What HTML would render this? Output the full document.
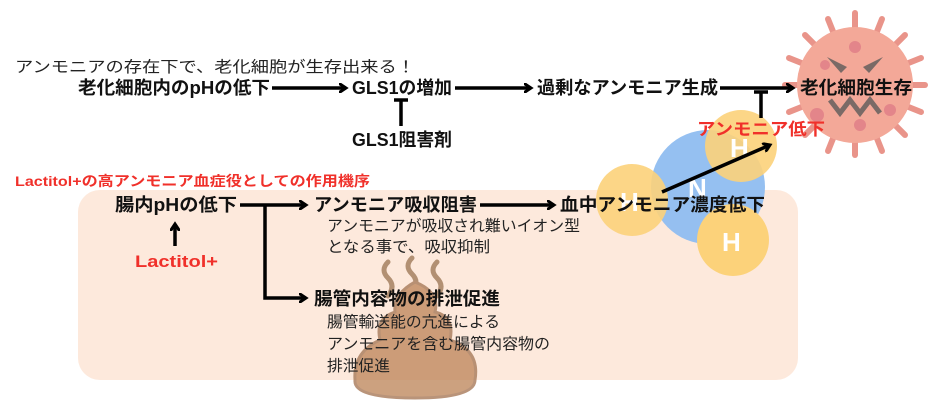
<!DOCTYPE html>
<html><head><meta charset="utf-8"><style>
html,body{margin:0;padding:0;background:#fff}
svg{display:block}
text{font-family:"Liberation Sans","Noto Sans CJK JP",sans-serif}
.b{font-weight:bold;font-size:18px;fill:#111}
.n{font-size:15.5px;fill:#222}
.r{font-weight:bold;fill:#f0302a}
</style></head><body>
<svg width="932" height="404" viewBox="0 0 932 404" xmlns="http://www.w3.org/2000/svg">
<defs>
<marker id="ah" markerWidth="10" markerHeight="10" refX="7" refY="5" orient="auto" markerUnits="userSpaceOnUse">
<path d="M1,1 L7,5 L1,9" fill="none" stroke="#000" stroke-width="3" stroke-linecap="round"/>
</marker>
</defs>
<rect x="78" y="190" width="720" height="190" rx="22" fill="#fde9dc"/>

<!-- virus -->
<g transform="translate(855,85)" fill="#e9948a">
<g stroke="#e9948a" stroke-width="6" stroke-linecap="round">
<line x1="0" y1="-55" x2="0" y2="-72"/><line x1="0" y1="55" x2="0" y2="70"/>
<line x1="-55" y1="0" x2="-70" y2="0"/><line x1="55" y1="0" x2="70" y2="0"/>
<line x1="39" y1="-39" x2="50" y2="-50"/><line x1="-39" y1="-39" x2="-50" y2="-50"/>
<line x1="39" y1="39" x2="50" y2="50"/><line x1="-39" y1="39" x2="-50" y2="50"/>
<line x1="21" y1="-51" x2="27" y2="-66"/><line x1="-21" y1="-51" x2="-27" y2="-66"/>
<line x1="51" y1="-21" x2="66" y2="-27"/><line x1="-51" y1="-21" x2="-66" y2="-27"/>
<line x1="51" y1="21" x2="66" y2="27"/><line x1="-51" y1="21" x2="-66" y2="27"/>
<line x1="21" y1="51" x2="27" y2="66"/><line x1="-21" y1="51" x2="-27" y2="66"/>
</g>
<circle r="58" fill="#f3a898"/>
<circle cx="0" cy="-38" r="6" fill="#e3858a"/><circle cx="-30" cy="-20" r="5" fill="#e3858a"/>
<circle cx="35" cy="25" r="6" fill="#e3858a"/><circle cx="-38" cy="30" r="7" fill="#e3858a"/>
<circle cx="5" cy="40" r="6" fill="#e3858a"/>
<path d="M-28,-28 L-8,-18 L-14,-12 Z" fill="#7a6a66"/>
<path d="M28,-28 L8,-18 L14,-12 Z" fill="#7a6a66"/>
<path d="M-25,15 L-15,28 L-5,15 L5,28 L15,15 L25,28" fill="none" stroke="#7a6a66" stroke-width="5"/>
</g>

<!-- molecule -->
<circle cx="708" cy="187" r="57" fill="#8fbdf0" opacity="0.95"/>
<circle cx="632" cy="200" r="36" fill="#fcd27a" opacity="0.9"/>
<circle cx="741" cy="146" r="36" fill="#fcd27a" opacity="0.9"/>
<circle cx="733" cy="240" r="36" fill="#fcd27a"/>
<text x="688" y="197" font-size="26" font-weight="bold" fill="#fff">N</text>
<text x="730" y="157" font-size="26" font-weight="bold" fill="#fff">H</text>
<text x="722" y="251" font-size="26" font-weight="bold" fill="#fff">H</text>
<text x="620" y="211" font-size="26" font-weight="bold" fill="#fff">H</text>

<!-- poop -->
<g opacity="0.8">
<path d="M388,262 q-8,8 0,16 q8,8 0,18" fill="none" stroke="#a07a5a" stroke-width="5" stroke-linecap="round"/>
<path d="M412,258 q-8,8 0,16 q8,8 0,18" fill="none" stroke="#a07a5a" stroke-width="5" stroke-linecap="round"/>
<path d="M437,262 q-8,8 0,16 q8,8 0,18" fill="none" stroke="#a07a5a" stroke-width="5" stroke-linecap="round"/>
<path d="M415,282 q25,10 20,30 q20,5 15,28 q30,10 25,40 q0,18 -60,18 q-62,0 -60,-18 q-2,-28 25,-40 q-5,-22 15,-28 q-2,-18 20,-30 Z" fill="#c08a60" stroke="#a87a5a" stroke-width="3"/>
</g>

<!-- texts -->
<text x="15" y="72" class="n" textLength="400" lengthAdjust="spacingAndGlyphs">アンモニアの存在下で、老化細胞が生存出来る！</text>
<text x="78" y="94" class="b" textLength="192" lengthAdjust="spacingAndGlyphs">老化細胞内のpHの低下</text>
<text x="352" y="94" class="b" textLength="100" lengthAdjust="spacingAndGlyphs">GLS1の増加</text>
<text x="537" y="94" class="b" textLength="181" lengthAdjust="spacingAndGlyphs">過剰なアンモニア生成</text>
<text x="800" y="94" class="b" textLength="112" lengthAdjust="spacingAndGlyphs">老化細胞生存</text>
<text x="352" y="146" class="b" textLength="100" lengthAdjust="spacingAndGlyphs">GLS1阻害剤</text>
<text x="697" y="135" class="r" font-size="17" textLength="128" lengthAdjust="spacingAndGlyphs">アンモニア低下</text>
<text x="15" y="186" class="r" font-size="14" textLength="355" lengthAdjust="spacingAndGlyphs">Lactitol+の高アンモニア血症役としての作用機序</text>
<text x="115" y="211" class="b" textLength="122" lengthAdjust="spacingAndGlyphs">腸内pHの低下</text>
<text x="314" y="211" class="b" textLength="163" lengthAdjust="spacingAndGlyphs">アンモニア吸収阻害</text>
<text x="560" y="211" class="b" textLength="205" lengthAdjust="spacingAndGlyphs">血中アンモニア濃度低下</text>
<text x="327" y="231" class="n" textLength="253" lengthAdjust="spacingAndGlyphs">アンモニアが吸収され難いイオン型</text>
<text x="327" y="252" class="n" textLength="163" lengthAdjust="spacingAndGlyphs">となる事で、吸収抑制</text>
<text x="135" y="267" class="r" font-size="17" textLength="83" lengthAdjust="spacingAndGlyphs">Lactitol+</text>
<text x="314" y="305" class="b" textLength="186" lengthAdjust="spacingAndGlyphs">腸管内容物の排泄促進</text>
<text x="327" y="327" class="n" textLength="173" lengthAdjust="spacingAndGlyphs">腸管輸送能の亢進による</text>
<text x="327" y="349" class="n" textLength="223" lengthAdjust="spacingAndGlyphs">アンモニアを含む腸管内容物の</text>
<text x="327" y="371" class="n" textLength="63" lengthAdjust="spacingAndGlyphs">排泄促進</text>

<!-- arrows -->
<g stroke="#000" stroke-width="3.5" fill="none">
<line x1="272" y1="88" x2="346" y2="88" marker-end="url(#ah)"/>
<line x1="455" y1="88" x2="531" y2="88" marker-end="url(#ah)"/>
<line x1="720" y1="88" x2="793" y2="88" marker-end="url(#ah)"/>
<line x1="401" y1="100" x2="401" y2="126"/><line x1="394" y1="100" x2="408" y2="100"/>
<line x1="761" y1="92" x2="761" y2="118"/><line x1="754" y1="92" x2="768" y2="92"/>
<line x1="240" y1="205" x2="306" y2="205" marker-end="url(#ah)"/>
<polyline points="265,205 265,298 306,298" marker-end="url(#ah)"/>
<line x1="480" y1="205" x2="554" y2="205" marker-end="url(#ah)"/>
<line x1="175" y1="246" x2="175" y2="224" marker-end="url(#ah)"/>
<line x1="662" y1="192" x2="770" y2="145" marker-end="url(#ah)"/>
</g>
</svg>
</body></html>
